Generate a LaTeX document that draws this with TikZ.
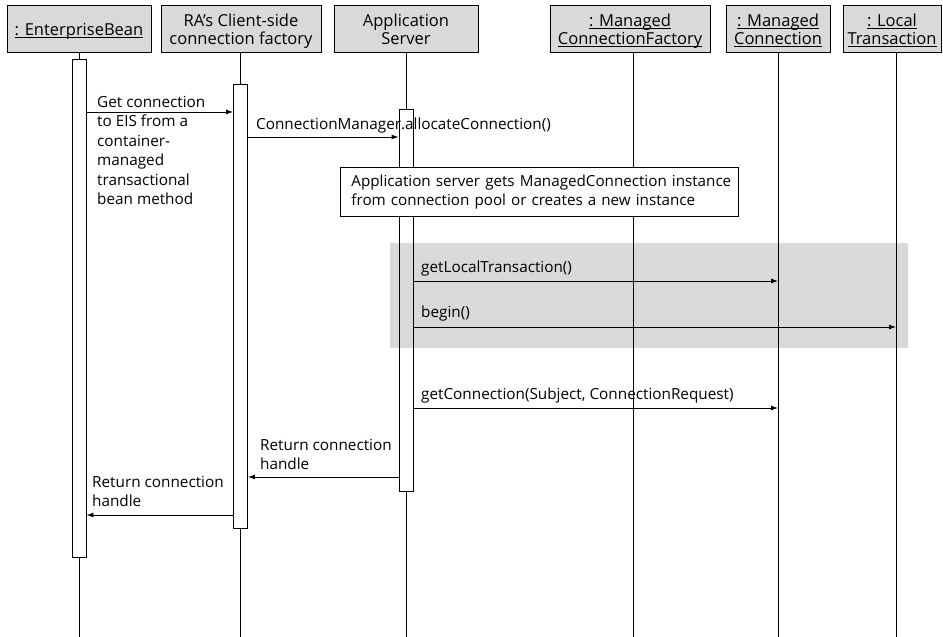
\documentclass[tikz,border=0pt]{standalone}
\usepackage{fontspec}
\setmainfont{Open Sans}
\usetikzlibrary{arrows.meta}
\newcommand\fsz{\fontsize{15.3}{19.4}\selectfont}
\newcommand\nsz{\fontsize{15.2}{18.5}\selectfont}
\newcommand\hsz{\fontsize{16.5}{18}\selectfont}
\newcommand\hstrut{\rule{0pt}{18pt}}
\newcommand\dstrut{\rule[-5pt]{0pt}{5pt}}
\newcommand\ulx[1]{\leavevmode\setbox0\hbox{#1}\rlap{\rule[-2.3pt]{\wd0}{0.8pt}}\box0}
\begin{document}
\begin{tikzpicture}[x=1pt,y=-1pt,
  hdr/.style={draw, fill=gray!30, line width=0.9pt, align=center, inner sep=0pt, minimum height=47pt, font=\hsz},
  act/.style={draw, line width=0.9pt, minimum width=14pt, inner sep=0pt},
  life/.style={line width=0.9pt},
  msg/.style={-{Latex[length=7pt,width=5pt]}, line width=0.9pt},
  lbl/.style={anchor=north west, align=left, inner sep=0pt, font=\fsz},
  notebox/.style={draw, fill=white, line width=0.9pt, anchor=north west, align=left, text width=376pt, inner xsep=11pt, minimum height=49pt, font=\nsz}]
\useasboundingbox (0,0) rectangle (943,637);
% background band
\fill[gray!30] (390,243) rectangle (908,348);
% headers
\node[hdr, minimum width=144pt] (eb) at (79,28.5) {\rule{0pt}{17pt}\ulx{: EnterpriseBean}};
\node[hdr, minimum width=160pt] (ra) at (241,28.5) {\hstrut RA’s Client-side\\connection factory\dstrut};
\node[hdr, minimum width=144pt] (as) at (406,28.5) {\hstrut Application\\Server\dstrut};
\node[hdr, minimum width=160pt] (mcf) at (630,28.5) {\hstrut\ulx{: Managed}\\\ulx{ConnectionFactory}\dstrut};
\node[hdr, minimum width=104pt] (mc) at (778,28.5) {\hstrut\ulx{: Managed}\\\ulx{Connection}\dstrut};
\node[hdr, minimum width=98pt] (lt) at (892,28.5) {\hstrut\ulx{: Local}\\\ulx{Transaction}\dstrut};
\coordinate (bot) at (0,637);
\coordinate (mcfx) at (633,0);
\coordinate (ltx) at (896,0);
% activations
\node[act, minimum height=498pt] (aeb) at (79,308) {};
\node[act, minimum height=444pt] (ara) at (240.5,306) {};
\node[act, minimum height=382pt] (aas) at (406,300) {};
% lifelines
\draw[life] (eb.south) -- (aeb.north);
\draw[life] (aeb.south) -- (aeb.south |- bot);
\draw[life] (ra.south -| ara) -- (ara.north);
\draw[life] (ara.south) -- (ara.south |- bot);
\draw[life] (as.south) -- (aas.north);
\draw[life] (aas.south) -- (aas.south |- bot);
\draw[life] (mcf.south -| mcfx) -- (mcfx |- bot);
\draw[life] (mc.south) -- (mc.south |- bot);
\draw[life] (lt.south -| ltx) -- (ltx |- bot);
% note
\node[notebox] (note) at (340,167) {\mbox{Application server gets ManagedConnection instance}\\\mbox{from connection pool or creates a new instance}};
% rows
\coordinate (r1) at (0,112);
\coordinate (r2) at (0,137);
\coordinate (r3) at (0,281);
\coordinate (r4) at (0,327);
\coordinate (r5) at (0,408);
\coordinate (r6) at (0,477);
\coordinate (r7) at (0,515);
% messages
\draw[msg] (aeb.east |- r1) -- (ara.west |- r1);
\draw[msg] (ara.east |- r2) -- (aas.west |- r2);
\draw[msg] (aas.east |- r3) -- (mc |- r3);
\draw[msg] (aas.east |- r4) -- (ltx |- r4);
\draw[msg] (aas.east |- r5) -- (mc |- r5);
\draw[msg] (aas.west |- r6) -- (ara.east |- r6);
\draw[msg] (ara.west |- r7) -- (aeb.east |- r7);
% labels
\node[lbl] (l1) at (97,96) {Get connection\\to EIS from a\\container-\\managed\\transactional\\bean method};
\node[lbl] (l2) at (256,118) {ConnectionManager.allocateConnection()};
\node[lbl] (l3) at (421,261) {getLocalTransaction()};
\node[lbl] (l4) at (421,306) {begin()};
\node[lbl] (l5) at (421,388) {getConnection(Subject, ConnectionRequest)};
\node[lbl] (l6) at (260,439) {Return connection\\handle};
\node[lbl] (l7) at (92,476) {Return connection\\handle};
\end{tikzpicture}
\end{document}
